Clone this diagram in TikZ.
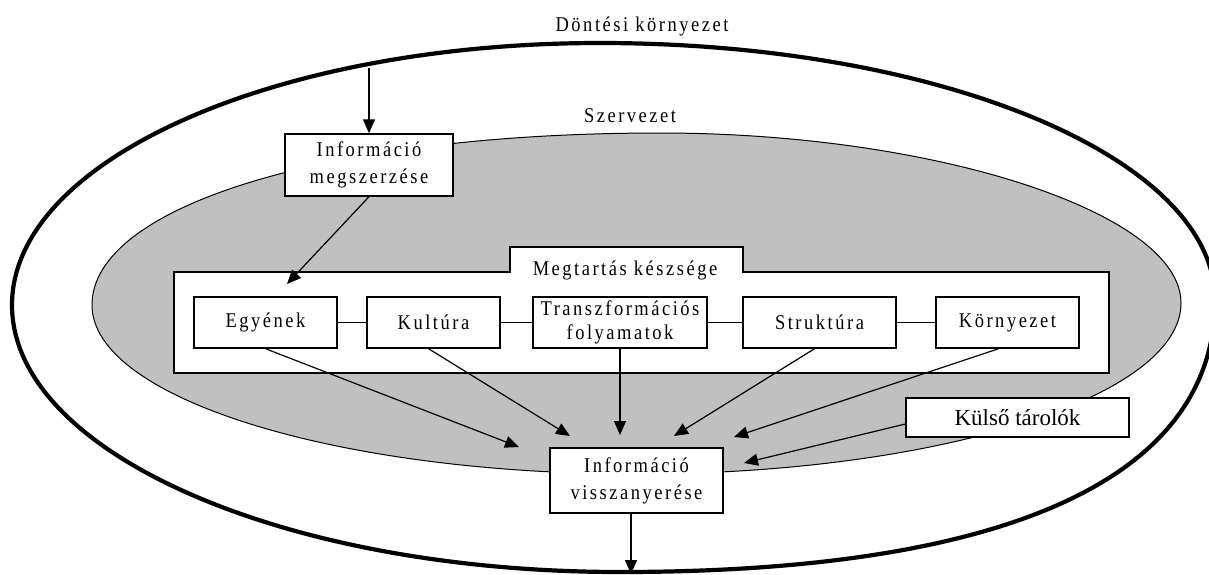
\documentclass[tikz,border=0pt]{standalone}
\usepackage{fontspec}
\setmainfont{Liberation Serif}
\newfontfamily\lsfont[LetterSpace=12,FakeStretch=0.88]{Liberation Serif}
\usetikzlibrary{arrows.meta}
\definecolor{orggrey}{HTML}{C0C0C0}
\tikzset{
  lbl/.style={font=\lsfont\fontsize{21}{28}\selectfont, inner sep=0pt, align=center},
  box/.style={draw, fill=white, line width=1.4pt, inner sep=0pt, align=center,
              font=\lsfont\fontsize{21}{27}\selectfont},
  link/.style={line width=1.2pt},
  flow/.style={line width=1.2pt, -{Triangle[length=14pt,width=12pt]}},
  boundary/.style={line width=4.2pt, line join=round},
}
\begin{document}
\begin{tikzpicture}[x=1pt,y=-1pt]
\useasboundingbox (0,0) rectangle (1209,574);

% decision environment
\draw[boundary] (600,43) .. controls (940,43) and (1215,158) .. (1215,300)
  .. controls (1215,478) and (1007,572) .. (620,572)
  .. controls (284,572) and (12,453) .. (12,305)
  .. controls (12,160) and (275,43) .. (600,43) -- cycle;

% organisation
\draw[fill=orggrey, line width=1pt] (660,133) .. controls (936,133) and (1181,213) .. (1181,303)
  .. controls (1181,397) and (937,474) .. (637,474)
  .. controls (336,474) and (92,398) .. (92,305)
  .. controls (92,205) and (331,133) .. (660,133) -- cycle;

% retention capability frame
\draw[fill=white, line width=1.4pt] (174,272) -- (510,272) -- (510,247) -- (743,247)
  -- (743,272) -- (1109,272) -- (1109,373) -- (174,373) -- cycle;

\node[lbl, anchor=base] (env) at (642,31) {Döntési környezet};
\node[lbl, anchor=base] (org) at (630,122) {Szervezet};
\node[lbl, anchor=base] (ret) at (625,275) {Megtartás készsége};

\node[box, minimum width=168pt, minimum height=62pt] (im) at (369,165)
  {Információ\\megszerzése};
\node[box, minimum width=143pt, minimum height=51pt] (egy) at (265.5,322.5) {Egyének};
\node[box, minimum width=133pt, minimum height=51pt] (kul) at (433.5,322.5) {Kultúra};
\node[box, minimum width=174pt, minimum height=51pt, font=\lsfont\fontsize{21}{24}\selectfont]
  (tr) at (620,322.5) {Transzformációs\\folyamatok};
\node[box, minimum width=153pt, minimum height=51pt] (str) at (819.5,322.5) {Struktúra};
\node[box, minimum width=143pt, minimum height=51pt] (kor) at (1007.5,322.5) {Környezet};
\node[box, minimum width=173pt, minimum height=65pt] (iv) at (636.5,480.5)
  {Információ\\visszanyerése};
\node[box, minimum width=223pt, minimum height=39pt, font=\fontsize{23}{27}\selectfont]
  (kt) at (1017.5,417.5) {Külső tárolók};

\draw[link] (egy.east) -- (kul.west);
\draw[link] (kul.east) -- (tr.west);
\draw[link] (tr.east) -- (str.west);
\draw[link] (str.east) -- (kor.west);

\coordinate (in) at (369,68);
\coordinate (ret-in) at (287,284);
\coordinate (t1) at (519,447);
\coordinate (t2) at (570,436);
\coordinate (t3) at (620,435);
\coordinate (t4) at (674,436);
\coordinate (t5) at (734,437);
\coordinate (t6) at (744,463);
\coordinate (out) at (631,574);

\draw[flow] (in) -- (im.north);
\draw[flow] (im.south) -- (ret-in);
\draw[flow] (egy.south) -- (t1);
\draw[flow] ([xshift=-5pt]kul.south) -- (t2);
\draw[flow] (tr.south) -- (t3);
\draw[flow] ([xshift=-5pt]str.south) -- (t4);
\draw[flow] ([xshift=-9pt]kor.south) -- (t5);
\draw[flow] ([yshift=-6.5pt]kt.west) -- (t6);
\draw[flow] ([xshift=-5.5pt]iv.south) -- (out);
\end{tikzpicture}
\end{document}
